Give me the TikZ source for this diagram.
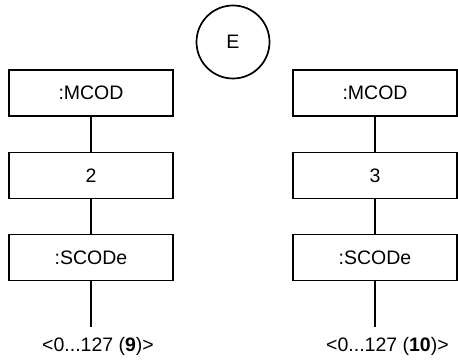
\documentclass[tikz,border=0pt]{standalone}
\usepackage{fontspec}
\setmainfont{Liberation Sans}
\usetikzlibrary{positioning}

\begin{document}
\begin{tikzpicture}[x=1pt,y=-1pt,
        every node/.style = {font=\fontsize{19.5}{23}\selectfont},
        box/.style = {draw, line width=1.7pt, minimum width=164pt,
            minimum height=46pt, inner sep=0pt},
        line/.style = {draw = black, line width=1.7pt}]
        \useasboundingbox (0,0) rectangle (458,363);
        \node[draw, circle, line width=1.7pt, minimum size=73pt, inner sep=0pt]
            (e) at (233,42) {E};
        \foreach \i/\x/\num/\val in {1/91/2/9, 2/375/3/10} {
            \node[box] (mcod\i) at (\x,93) {:MCOD};
            \node[box] (par\i) at (\x,175.5) {\num};
            \node[box] (scod\i) at (\x,257.5) {:SCODe};
            \coordinate (end\i) at (\x,327);
            \node[anchor=west, inner sep=0pt] (rng\i) at (\x-49,346)
                {<0...127 (\textbf{\val})>};
            \path[line] (mcod\i) -- (par\i);
            \path[line] (par\i) -- (scod\i);
            \path[line] (scod\i) -- (end\i);
        }
    \end{tikzpicture}
\end{document}
